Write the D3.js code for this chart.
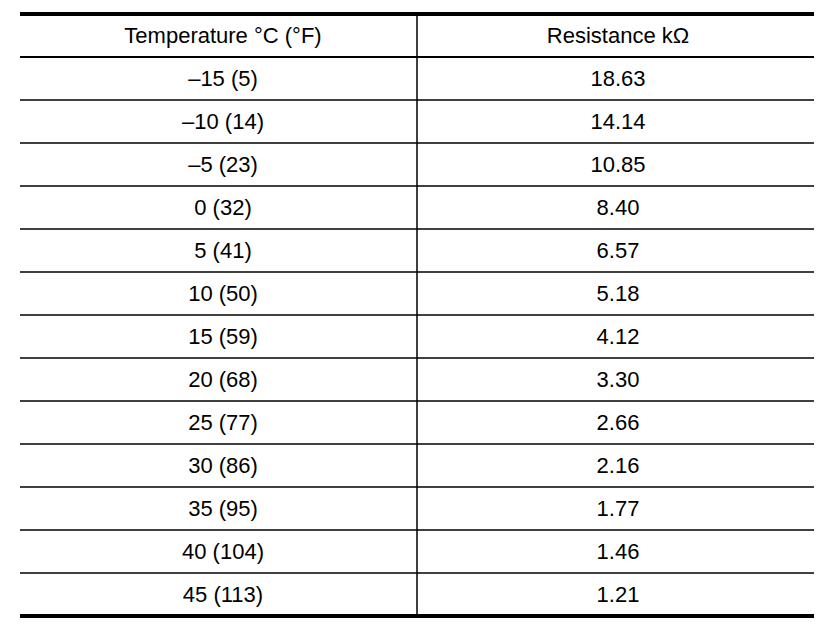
<!DOCTYPE html>
<html>
<head>
<meta charset="utf-8">
<script src="https://cdn.jsdelivr.net/npm/d3@7"></script>
<style>
	body { margin: 0; background: #fff; }
	svg text { font-family: "Liberation Sans", Arial, sans-serif; font-size: 22px; fill: #000; }
</style>
</head>
<body>
<svg id="table" width="832" height="628"></svg>
<script>

// table contents
var headers = ['Temperature \u00B0C (\u00B0F)', 'Resistance k\u03A9'];

var temperatures = ['\u201315 (5)', '\u201310 (14)', '\u20135 (23)', '0 (32)', '5 (41)', '10 (50)',
	'15 (59)', '20 (68)', '25 (77)', '30 (86)', '35 (95)', '40 (104)', '45 (113)'];

var resistances = ['18.63', '14.14', '10.85', '8.40', '6.57', '5.18',
	'4.12', '3.30', '2.66', '2.16', '1.77', '1.46', '1.21'];


var svg = d3.select('#table');

// note: "top" is taken by window.top, so use other names
var xLeft = 20, xRight = 814, xMid = 417,
	yTop = 14, yBottom = 616;

var nRows = temperatures.length + 1;

var y = d3.scaleBand()
	.domain(d3.range(nRows))
	.range([yTop, yBottom]);

// text sits a little right of the true cell centre in the original
var colCenter = [ 223, 618 ];

// inner horizontal rules
svg.selectAll('line.row')
	.data(d3.range(1, nRows))
	.enter().append('line')
		.attr('class', 'row')
		.attr('x1', xLeft)
		.attr('x2', xRight)
		.attr('y1', function(d) { return y(d); })
		.attr('y2', function(d) { return y(d); })
		.attr('stroke', '#000')
		.attr('stroke-width', function(d) { return d === 1 ? 2 : 1.5; });

// column divider
svg.append('line')
	.attr('x1', xMid).attr('x2', xMid)
	.attr('y1', yTop).attr('y2', yBottom)
	.attr('stroke', '#000')
	.attr('stroke-width', 1.5);

// thick top and bottom rules
svg.selectAll('line.edge')
	.data([yTop, yBottom])
	.enter().append('line')
		.attr('class', 'edge')
		.attr('x1', xLeft)
		.attr('x2', xRight)
		.attr('y1', function(d) { return d; })
		.attr('y2', function(d) { return d; })
		.attr('stroke', '#000')
		.attr('stroke-width', 4);

var rows = [headers].concat(temperatures.map(function(t, i) {
	return [t, resistances[i]];
}));

svg.selectAll('g.row')
	.data(rows)
	.enter().append('g')
		.attr('class', 'row')
		.attr('transform', function(d, i) {
			return 'translate(0,' + (y(i) + y.bandwidth() / 2) + ')';
		})
	.selectAll('text')
	.data(function(d) { return d; })
	.enter().append('text')
		.attr('x', function(d, j) { return colCenter[j]; })
		.attr('dy', '0.36em')
		.attr('text-anchor', 'middle')
		.text(function(d) { return d; });

</script>
</body>
</html>
